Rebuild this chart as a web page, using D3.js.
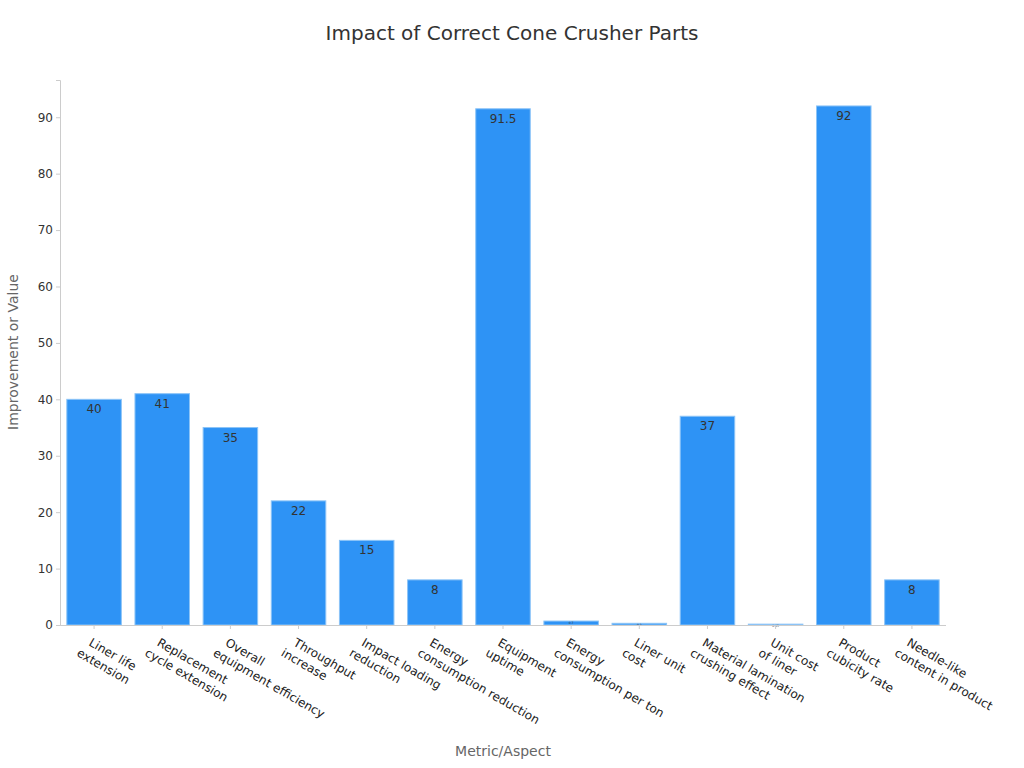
<!DOCTYPE html><html><head><meta charset="utf-8"><script src="https://cdn.jsdelivr.net/npm/d3@7"></script>
<style>body{margin:0;background:#fff}text{font-family:"DejaVu Sans",sans-serif}</style></head><body><svg width="1024" height="768"></svg><script>
const categories=[["Liner life","extension"],["Replacement","cycle extension"],["Overall","equipment efficiency"],["Throughput","increase"],["Impact loading","reduction"],["Energy","consumption reduction"],["Equipment","uptime"],["Energy","consumption per ton"],["Liner unit","cost"],["Material lamination","crushing effect"],["Unit cost","of liner"],["Product","cubicity rate"],["Needle-like","content in product"]];
const values=[40,41,35,22,15,8,91.5,0.7,0.3,37,0.15,92,8];
const yTicks=[0,10,20,30,40,50,60,70,80,90];
const svg=d3.select("svg");
const x=d3.scaleBand().domain(d3.range(values.length)).range([60,946]).paddingInner(0.2).paddingOuter(0.1);
const y=d3.scaleLinear().domain([0,96.6]).range([625,80]);
svg.append("text").attr("x",512).attr("y",40).attr("text-anchor","middle").attr("font-size",20).attr("fill","#333").text("Impact of Correct Cone Crusher Parts");
svg.selectAll("rect.b").data(values).join("rect").attr("x",(d,i)=>x(i)).attr("width",x.bandwidth()).attr("y",d=>y(d)).attr("height",d=>625-y(d)).attr("fill","#2e93f5").attr("stroke","#8cc4f7").attr("stroke-width",1);
svg.selectAll("text.v").data(values).join("text").attr("x",(d,i)=>x(i)+x.bandwidth()/2).attr("y",d=>d>5?y(d)+14:y(d)+3).attr("text-anchor","middle").attr("font-size",d=>d>5?12:3).attr("fill","#333").text(d=>d);
const ya=svg.append("g").attr("transform","translate(60,0)").call(d3.axisLeft(y).tickValues(yTicks).tickSize(4));
ya.selectAll("text").attr("font-size",12).attr("fill","#333");
ya.selectAll("line,path").attr("stroke","#ccc");
const xa=svg.append("g").attr("transform","translate(0,625)").call(d3.axisBottom(x).tickSize(4).tickFormat(""));
xa.selectAll("line,path").attr("stroke","#ccc");xa.select("path").attr("d","M60,0.5H946");
categories.forEach((c,i)=>{const t=svg.append("text").attr("transform",`translate(${x(i)+x.bandwidth()/2-6},${645}) rotate(30)`).attr("font-size",12).attr("fill","#222");
c.forEach((l,j)=>t.append("tspan").attr("x",j==0?0:-18*(c[1].length>c[0].length?0.3:0.3)).attr("dy",j==0?0:15).text(l));});
svg.append("text").attr("x",503).attr("y",756).attr("text-anchor","middle").attr("font-size",14).attr("fill","#666").text("Metric/Aspect");
svg.append("text").attr("transform","translate(18,352) rotate(-90)").attr("text-anchor","middle").attr("font-size",14).attr("fill","#666").text("Improvement or Value");
</script></body></html>
